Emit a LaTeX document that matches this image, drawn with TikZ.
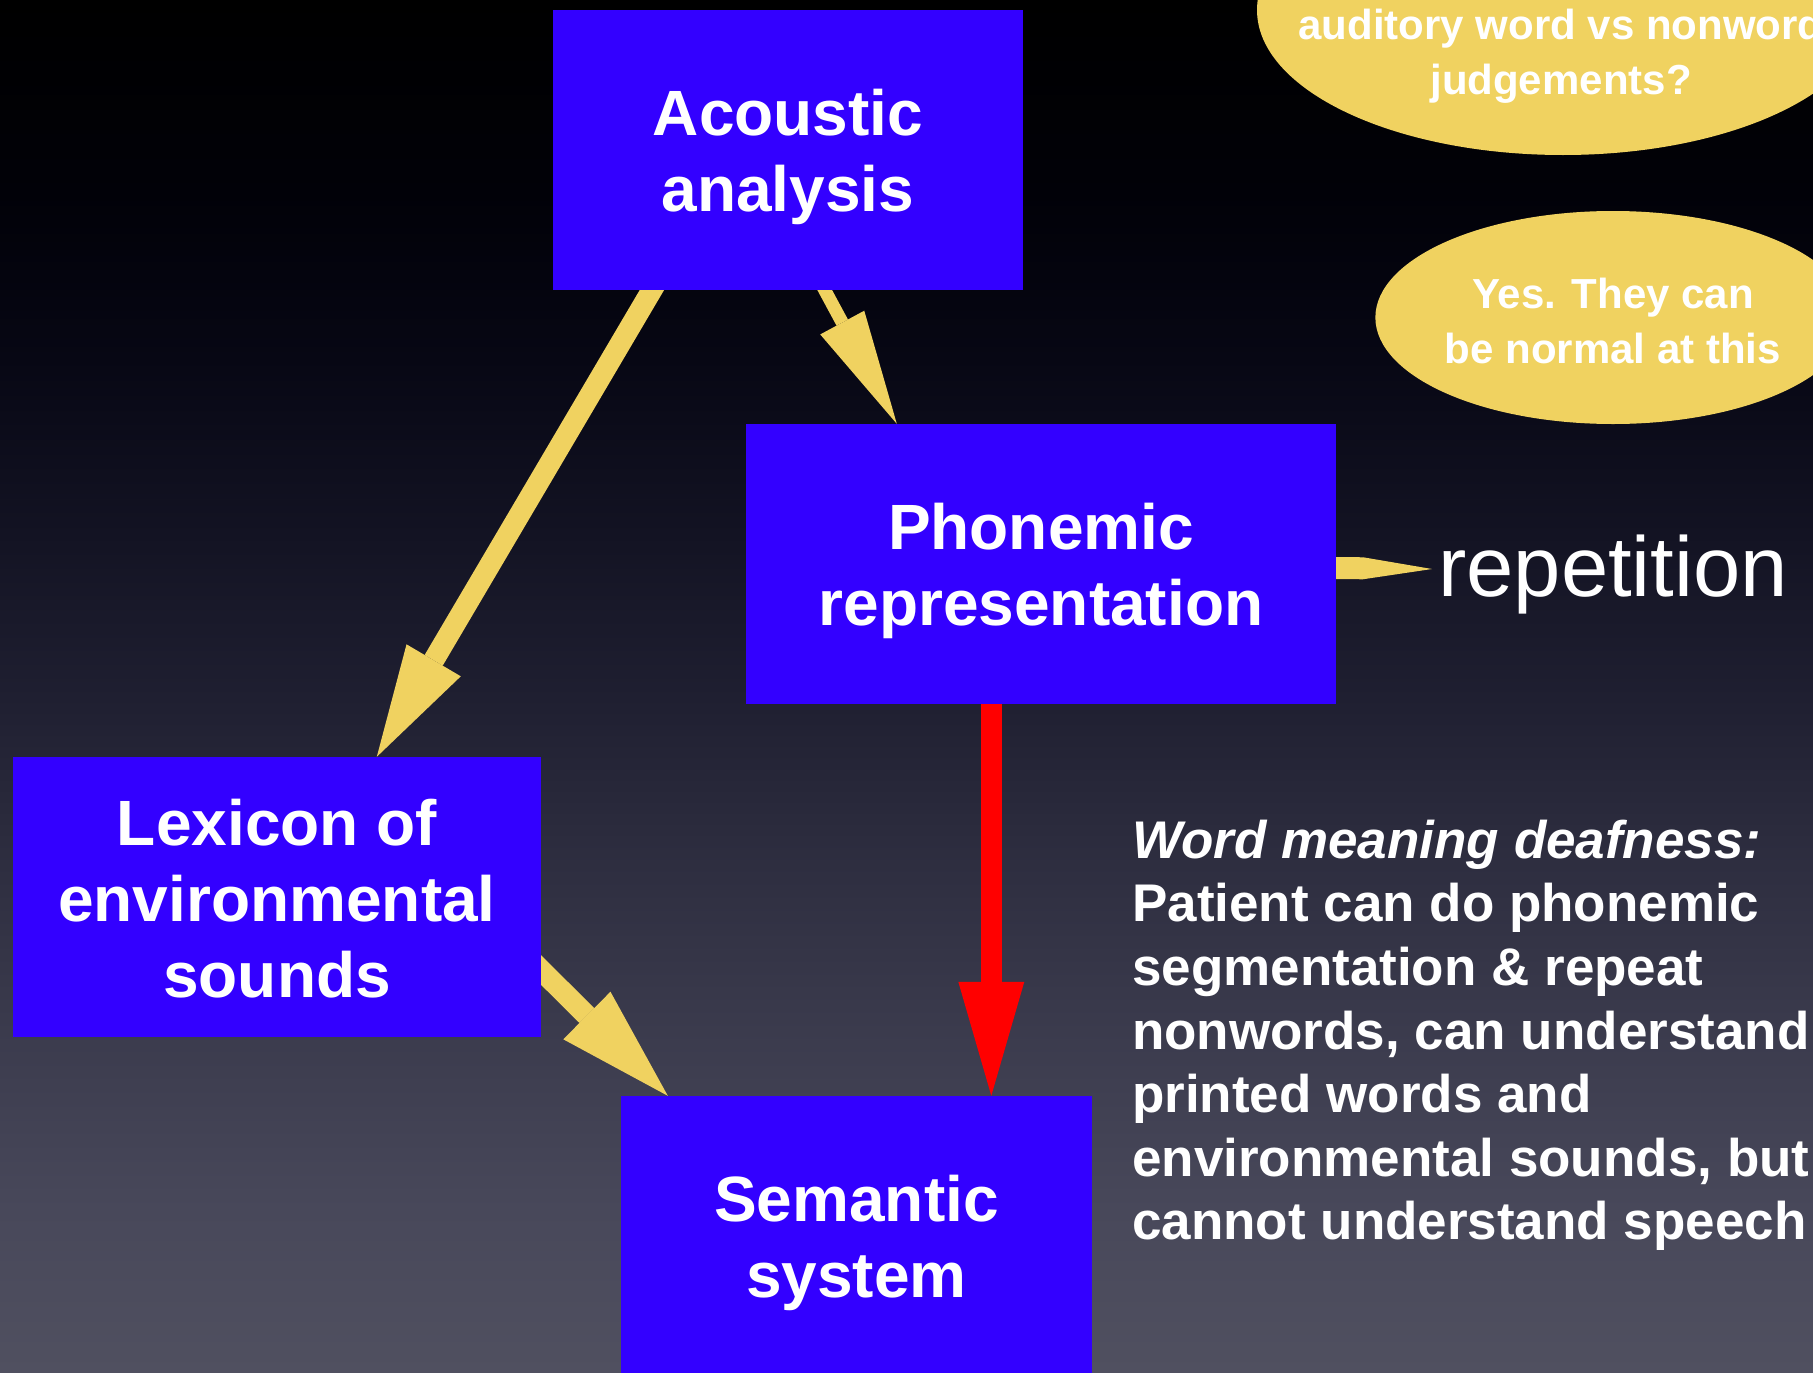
\documentclass[tikz,border=0pt]{standalone}
\usepackage{fontspec}
\setmainfont{Liberation Sans}
\usetikzlibrary{arrows.meta,calc,shapes.geometric}

\definecolor{boxblue}{RGB}{51,0,255}
\definecolor{flowgold}{RGB}{240,210,96}
\definecolor{flowred}{RGB}{255,0,0}

% slide background: near-black at the top, slate grey at the bottom
\pgfdeclareverticalshading{slidebg}{100bp}{%
  rgb(0bp)=(0.314,0.314,0.376); rgb(25bp)=(0.314,0.314,0.376);
  rgb(31bp)=(0.282,0.282,0.353); rgb(37bp)=(0.235,0.235,0.306);
  rgb(44bp)=(0.176,0.176,0.247); rgb(50bp)=(0.118,0.118,0.188);
  rgb(56bp)=(0.071,0.071,0.133); rgb(62bp)=(0.027,0.027,0.078);
  rgb(68bp)=(0.004,0.004,0.031); rgb(75bp)=(0,0,0); rgb(100bp)=(0,0,0)}

\pgfdeclarelayer{back}
\pgfdeclarelayer{links}
\pgfsetlayers{back,links,main}

\newcommand\boxstrut{\rule[-12pt]{0pt}{73pt}}
\newcommand\ovalstrut{\rule[-9pt]{0pt}{54pt}}

\tikzset{
  stage/.style={rectangle, fill=boxblue, text=white, inner sep=0pt,
    minimum height=280pt, align=center,
    font=\fontsize{64}{76}\selectfont\bfseries},
  bubble/.style={ellipse, fill=flowgold, inner sep=0pt},
  bubbletext/.style={text=white, align=center, inner sep=0pt,
    font=\fontsize{42}{50}\selectfont\bfseries},
  flow/.style n args={4}{draw=#1, line width=#2,
    -{Triangle[length=#3 0, width=#4 0, line width=0pt]}},
}

\begin{document}
\begin{tikzpicture}[x=1pt, y=-1pt]
\useasboundingbox (0,0) rectangle (1813,1373);

\begin{pgfonlayer}{back}
  \shade[shading=slidebg] (0,0) rectangle (1813,1373);
\end{pgfonlayer}

% processing stages
\node[stage, minimum width=470pt] (acoustic) at (788,150)
  {\boxstrut Acoustic\\\boxstrut analysis};
\node[stage, minimum width=590pt] (phonemic) at (1041,564)
  {\boxstrut Phonemic\\\boxstrut representation};
\node[stage, minimum width=528pt] (lexicon) at (277,897)
  {\boxstrut Lexicon of\\\boxstrut environmental\\\boxstrut sounds};
\node[stage, minimum width=471pt] (semantic) at (856.5,1236)
  {\boxstrut Semantic\\\boxstrut system};

% question and answer bubbles
\node[bubble, minimum width=612pt, minimum height=290pt] (askoval) at (1563,10) {};
\node[bubbletext] (asktext) at (1561,49)
  {\ovalstrut auditory word vs nonword\\\ovalstrut judgements?};
\node[bubble, bubbletext, minimum width=444pt, minimum height=213pt] (yesoval)
  at (1613,317.5) {\ovalstrut Yes. They can\\\ovalstrut be normal at this};

% output label
\node[anchor=base west, inner sep=0pt, text=white,
  font=\fontsize{85}{100}\selectfont] (rep) at (1438,596) {repetition};
\coordinate (reptip) at (1432,569);

% description of the syndrome
\node[anchor=north west, inner sep=0pt, text=white, align=left,
  font=\fontsize{53}{63.6}\selectfont\bfseries] (desc) at (1132,819)
  {\rule{0pt}{39pt}\textit{Word meaning deafness:}\\
   Patient can do phonemic\\
   segmentation \& repeat\\
   nonwords, can understand\\
   printed words and\\
   environmental sounds, but\\
   cannot understand speech};

% connections between stages
\begin{pgfonlayer}{links}
  \coordinate (a1s) at ([xshift=99pt]acoustic.south west);
  \coordinate (a1t) at ([xshift=364pt]lexicon.north west);
  \draw[flow={flowgold}{21pt}{112pt}{63pt}] ($(a1s)!-0.1!(a1t)$) -- (a1t);

  \coordinate (a2s) at ([xshift=272pt]acoustic.south west);
  \coordinate (a2t) at ([xshift=151pt]phonemic.north west);
  \draw[flow={flowgold}{13pt}{115pt}{50pt}] ($(a2s)!-0.2!(a2t)$) -- (a2t);

  \coordinate (a3s) at ([yshift=67pt]lexicon.south east);
  \coordinate (a3t) at ([xshift=47pt]semantic.north west);
  \draw[flow={flowgold}{21pt}{114pt}{67pt}] ($(a3s)!-0.2!(a3t)$) -- (a3t);

  \coordinate (a4s) at ([xshift=245.5pt]phonemic.south west);
  \coordinate (a4t) at ([xshift=370.5pt]semantic.north west);
  \draw[flow={flowred}{21pt}{114pt}{66pt}] ($(a4s)!-0.1!(a4t)$) -- (a4t);

  \coordinate (a5s) at ([yshift=-4pt]phonemic.east);
  \draw[flow={flowgold}{22pt}{69pt}{22pt}] ($(a5s)!-0.2!(reptip)$) -- (reptip);
\end{pgfonlayer}
\end{tikzpicture}
\end{document}
